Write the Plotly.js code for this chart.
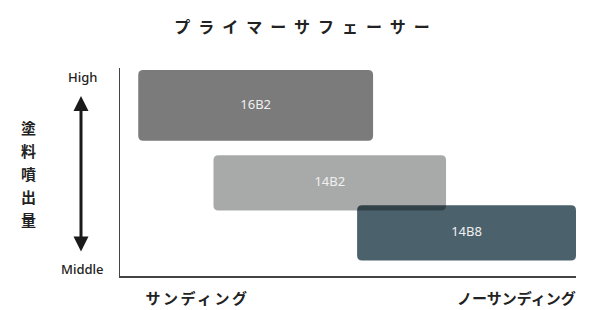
<!DOCTYPE html>
<html>
<head>
<meta charset="utf-8">
<script src="https://cdn.plot.ly/plotly-3.0.1.min.js"></script>
<style>
  html, body { margin: 0; padding: 0; background: #fff; }
  #chart { width: 590px; height: 310px; }
  .gtitle { letter-spacing: 8px; }
</style>
</head>
<body>
<div id="chart"></div>
<script>
// ---- data ----
const chartTitle = 'プライマーサフェーサー';
const products = ['16B2', '14B2', '14B8'];
const xStart = [4, 20.5, 52];      // sanding (0) -> no sanding (100)
const xEnd = [55.5, 71.5, 100];
const yLow = [65, 31.5, 7.5];      // paint output: middle (0) -> high (100)
const yHigh = [99, 58, 34];
const boxColors = ['#7a7b7a', 'rgba(0,6,6,0.34)', '#4b626d'];
const drawOrder = [0, 2, 1];
const yAxisLabel = '塗料噴出量';
const yEndLabels = ['High', 'Middle'];
const xEndLabels = ['サンディング', 'ノーサンディング'];

// ---- layout geometry ----
const W = 590, H = 310;
const M = {l: 120, r: 14, t: 68, b: 34};
const plotW = W - M.l - M.r, plotH = H - M.t - M.b;
const xRange = [0, 100], yRange = [0, 100];
const radiusPx = 5;
const rx = radiusPx * (xRange[1] - xRange[0]) / plotW;
const ry = radiusPx * (yRange[1] - yRange[0]) / plotH;

function roundRect(x0, x1, y0, y1) {
  return `M${x0 + rx},${y0} L${x1 - rx},${y0} Q${x1},${y0} ${x1},${y0 + ry} ` +
         `L${x1},${y1 - ry} Q${x1},${y1} ${x1 - rx},${y1} L${x0 + rx},${y1} ` +
         `Q${x0},${y1} ${x0},${y1 - ry} L${x0},${y0 + ry} Q${x0},${y0} ${x0 + rx},${y0} Z`;
}

const shapes = drawOrder.map(i => ({
  type: 'path', xref: 'x', yref: 'y', layer: 'below',
  path: roundRect(xStart[i], xEnd[i], yLow[i], yHigh[i]),
  fillcolor: boxColors[i], line: {width: 0}
}));

const labelTrace = {
  type: 'scatter', mode: 'text',
  x: products.map((p, i) => (xStart[i] + xEnd[i]) / 2),
  y: products.map((p, i) => (yLow[i] + yHigh[i]) / 2),
  text: products,
  textposition: 'middle center',
  textfont: {family: 'Noto Sans, sans-serif', size: 13, color: '#f0f0f0', weight: 'normal'},
  hoverinfo: 'skip', showlegend: false
};

// pixel -> paper helpers for decorations
const px = v => (v - M.l) / plotW;
const py = v => (H - M.b - v) / plotH;

const jpFont = '"Noto Sans CJK JP", sans-serif';
const annotations = [];

// vertical axis label, one character per line
Array.from(yAxisLabel).forEach((ch, k) => {
  annotations.push({
    xref: 'paper', yref: 'paper', x: px(28), y: py(127 + k * 23),
    xanchor: 'center', yanchor: 'middle', showarrow: false, text: ch,
    font: {family: jpFont, size: 15, color: '#222', weight: 'bold'}
  });
});

// High / Middle
annotations.push({
  xref: 'paper', yref: 'paper', x: px(82), y: py(77), xanchor: 'center', yanchor: 'middle',
  showarrow: false, text: yEndLabels[0],
  font: {family: 'Noto Sans, sans-serif', size: 13, color: '#222', weight: 500}
});
annotations.push({
  xref: 'paper', yref: 'paper', x: px(82), y: py(269), xanchor: 'center', yanchor: 'middle',
  showarrow: false, text: yEndLabels[1],
  font: {family: 'Noto Sans, sans-serif', size: 13, color: '#222', weight: 500}
});

// double-headed arrow
annotations.push({
  xref: 'paper', yref: 'paper', x: px(81), y: py(96), axref: 'pixel', ayref: 'pixel',
  ax: 0, ay: 157, text: '', showarrow: true,
  arrowhead: 2, startarrowhead: 2, arrowside: 'end+start',
  arrowsize: 1, startarrowsize: 1, arrowwidth: 3, arrowcolor: '#1a1a1a',
  standoff: 0, startstandoff: 0
});

// x end labels
annotations.push({
  xref: 'paper', yref: 'paper', x: px(197), y: py(297), xanchor: 'center', yanchor: 'middle',
  showarrow: false, text: xEndLabels[0],
  font: {family: jpFont, size: 15, color: '#222', weight: 'bold'}
});
annotations.push({
  xref: 'paper', yref: 'paper', x: px(516), y: py(297), xanchor: 'center', yanchor: 'middle',
  showarrow: false, text: xEndLabels[1],
  font: {family: jpFont, size: 15, color: '#222', weight: 'bold'}
});

const layout = {
  width: W, height: H,
  margin: M,
  paper_bgcolor: '#fff', plot_bgcolor: '#fff',
  title: {
    text: chartTitle, xref: 'container', yref: 'container',
    x: 306 / W, y: 1 - 27 / H, xanchor: 'center', yanchor: 'middle',
    font: {family: jpFont, size: 16, color: '#222', weight: 'bold'}
  },
  xaxis: {
    range: xRange, showgrid: false, zeroline: false, showticklabels: false,
    ticks: '', showline: true, linecolor: '#444', linewidth: 1.5, fixedrange: true
  },
  yaxis: {
    range: yRange, showgrid: false, zeroline: false, showticklabels: false,
    ticks: '', showline: true, linecolor: '#444', linewidth: 1.5, fixedrange: true
  },
  shapes: shapes,
  annotations: annotations,
  showlegend: false
};

Plotly.newPlot('chart', [labelTrace], layout, {displayModeBar: false, staticPlot: true}).then(gd => {
  // the reference spreads the first x label a little wider
  gd.querySelectorAll('.annotation-text').forEach(t => {
    if (t.textContent === xEndLabels[0]) t.style.letterSpacing = '2.5px';
  });
});
</script>
</body>
</html>
